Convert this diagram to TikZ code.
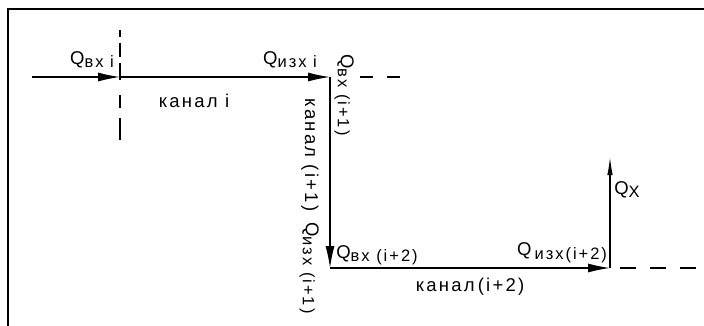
\documentclass[tikz,border=0pt]{standalone}
\usepackage{fontspec}
\setmainfont{Liberation Sans}[LetterSpace=12]
\usetikzlibrary{arrows.meta}
\newcommand\Qsub[1]{Q\raisebox{-3pt}{\fontsize{16.5}{19}\selectfont #1}}
\begin{document}
\begin{tikzpicture}[x=1pt,y=-1pt,
  lbl/.style={inner sep=0pt,font=\fontsize{18.5}{22}\selectfont},
  flow/.style={line width=1.2pt,-{Latex[length=22pt,width=9pt]}},
  flowthin/.style={line width=1.2pt,-{Latex[length=18pt,width=5.5pt]}},
  dash line/.style={line width=1.2pt,dash pattern=on 13pt off 14pt},
  vdash line/.style={line width=1.2pt,dash pattern=on 7pt off 6pt on 14pt off 6pt on 17pt off 15pt on 13pt off 10pt on 22pt off 10pt},
  rdash line/.style={line width=1.2pt,dash pattern=on 16pt off 14pt},
  frame/.style={line width=1.3pt}]
\useasboundingbox (0,0) rectangle (704,326);
% frame (top and left edges)
\coordinate (f1) at (8,326);
\coordinate (f2) at (8,9);
\coordinate (f3) at (704,9);
\draw[frame] (f1) -- (f2) -- (f3);
% main path points
\coordinate (s) at (32,77);
\coordinate (a) at (120,77);
\coordinate (b) at (330,77);
\coordinate (c) at (330,268);
\coordinate (d) at (610,268);
\coordinate (e) at (610,157);
% dashed section markers
\coordinate (da1) at (120,30);
\coordinate (da2) at (120,140);
\coordinate (db1) at (360,77);
\coordinate (db2) at (401,77);
\coordinate (dd1) at (620,268);
\coordinate (dd2) at (697,268);
\draw[vdash line] (da1) -- (da2);
\draw[dash line] (db1) -- (db2);
\draw[rdash line] (dd1) -- (dd2);
% flows
\draw[flow] (s) -- (a);
\draw[flow] (a) -- (b);
\draw[flow] (b) -- (c);
\draw[flow] (c) -- (d);
\draw[flowthin] (d) -- (e);
% labels
\node[lbl] (qin) at (92,60) {\Qsub{вх i}};
\node[lbl] (k1) at (194,101) {канал i};
\node[lbl] (qout) at (290,60) {\Qsub{изх i}};
\node[lbl,rotate=-90] (qin2) at (344,95) {\Qsub{вх (i+1)}};
\node[lbl,rotate=-90] (k2) at (310,155) {канал (i+1)};
\node[lbl,rotate=-90] (qout2) at (309,268) {\Qsub{изх (i+1)}};
\node[lbl] (qin3) at (377,255) {\Qsub{вх (i+2)}};
\node[lbl] (k3) at (470,287) {канал\,(i+2)};
\node[lbl] (qout3) at (562,253) {Q\,\raisebox{-4pt}{\fontsize{16.5}{19}\selectfont изх(i+2)}};
\node[lbl] (qx) at (627,190) {\Qsub{X}};
\end{tikzpicture}
\end{document}
